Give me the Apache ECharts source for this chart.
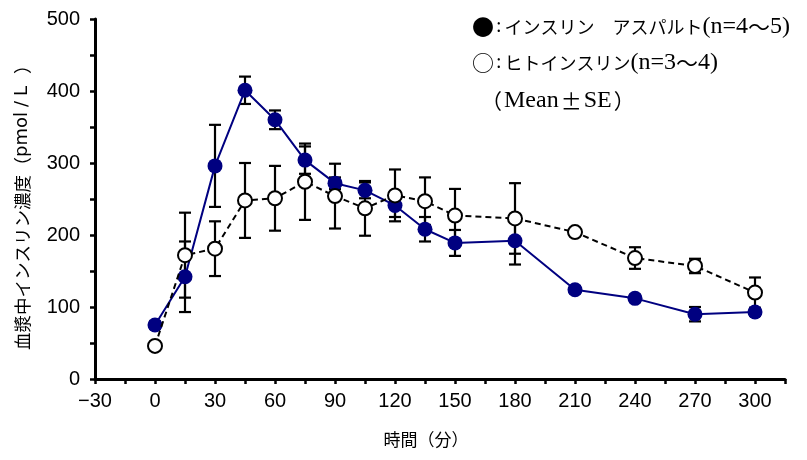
<!DOCTYPE html>
<html>
<head>
<meta charset="utf-8">
<script src="https://cdn.jsdelivr.net/npm/echarts@6/dist/echarts.min.js"></script>
<style>
  html, body { margin: 0; padding: 0; background: #fff; }
  #chart { width: 807px; height: 460px; }
</style>
</head>
<body>
<div id="chart"></div>
<script>
// Sampling times (min)
const times = [0, 15, 30, 45, 60, 75, 90, 105, 120, 135, 150, 180, 210, 240, 270, 300];
// Insulin aspart: mean and SE (pmol/L)
const aspartMean = [75, 142, 296, 401, 360, 304, 272, 262, 241, 208, 189, 192, 124, 112, 90, 93];
const aspartSE   = [5, 49, 57, 19, 13, 19, 8, 11, 16, 17, 18, 33, 5, 5, 10, 5];
// Human insulin: mean and SE (pmol/L)
const humanMean = [46, 172, 181, 248, 251, 274, 254, 237, 255, 247, 227, 223, 204, 168, 157, 120];
const humanSE   = [5, 59, 38, 52, 45, 53, 45, 38, 36, 33, 37, 49, 5, 15, 10, 21];

// Legend lines (rich-text markup: s = marker, c = colon, k = kana, l = latin, w = wave dash)
const legendLines = [
  '{s|●}{c|:}{k|インスリン　アスパルト}{l|(n=4}{w|～}{l|5)}',
  '{s|○}{c|:}{k|ヒトインスリン}{l|(n=3}{w|～}{l|4)}',
  '{p|（}{m|Mean}{p|±}{m|SE}{p|）}'
];
const xTitle = '時間（分）';
const yTitle = '{a|血漿中インスリン濃度}{p|（}{u|pmol}{v|/}{u|L}{q|）}';

const pairs = (means) => times.map((t, i) => [t, means[i]]);
const bars = (means, se) => times.map((t, i) => [t, means[i] - se[i], means[i] + se[i]]);

function errorBar(params, api) {
  const x = api.value(0);
  const top = api.coord([x, api.value(2)]);
  const bot = api.coord([x, api.value(1)]);
  const hw = 6;
  const st = { stroke: '#000', lineWidth: 2.2 };
  return {
    type: 'group',
    children: [
      { type: 'line', shape: { x1: top[0], y1: top[1], x2: bot[0], y2: bot[1] }, style: st },
      { type: 'line', shape: { x1: top[0] - hw, y1: top[1], x2: top[0] + hw, y2: top[1] }, style: st },
      { type: 'line', shape: { x1: bot[0] - hw, y1: bot[1], x2: bot[0] + hw, y2: bot[1] }, style: st }
    ]
  };
}

const legendRich = {
  s: { fontFamily: 'Noto Sans CJK JP', fontSize: 22, fill: '#000', verticalAlign: 'middle' },
  c: { fontFamily: 'Liberation Serif', fontSize: 20, fill: '#000', padding: [0, 3, 0, 2], verticalAlign: 'middle' },
  k: { fontFamily: 'Noto Sans CJK JP', fontSize: 18, fill: '#000', verticalAlign: 'middle' },
  l: { fontFamily: 'Liberation Serif', fontSize: 24, fill: '#000', verticalAlign: 'middle' },
  w: { fontFamily: 'Noto Sans CJK JP', fontSize: 22, fill: '#000', verticalAlign: 'middle' },
  p: { fontFamily: 'Noto Sans CJK JP', fontSize: 21, fill: '#000', verticalAlign: 'middle' },
  m: { fontFamily: 'Liberation Serif', fontSize: 24, fill: '#000', verticalAlign: 'middle', padding: [0, 2] }
};

const tickFont = { fontFamily: 'Liberation Sans', fontSize: 20, color: '#000' };
const axisLine = { show: true, onZero: false, lineStyle: { color: '#000', width: 3 } };
const axisTick = { show: true, inside: false, length: 5, lineStyle: { color: '#000', width: 2.5 } };

const chart = echarts.init(document.getElementById('chart'), null, { renderer: 'canvas' });
chart.setOption({
  animation: false,
  backgroundColor: '#fff',
  grid: { left: 95, right: 22, top: 19, bottom: 81, containLabel: false },
  xAxis: {
    type: 'value', min: -30, max: 315, interval: 15,
    axisLine, axisTick,
    splitLine: { show: false },
    axisLabel: Object.assign({}, tickFont, {
      margin: 12,
      formatter: v => (v % 30 === 0 ? String(v).replace('-', '−') : '')
    })
  },
  yAxis: {
    type: 'value', min: 0, max: 500, interval: 50,
    axisLine, axisTick,
    splitLine: { show: false },
    axisLabel: Object.assign({}, tickFont, {
      margin: 15,
      formatter: v => (v % 100 === 0 ? String(v) : '')
    })
  },
  graphic: [
    { type: 'text', x: 472, y: 27, style: { text: legendLines[0], rich: legendRich, verticalAlign: 'middle' } },
    { type: 'text', x: 472, y: 63, style: { text: legendLines[1], rich: legendRich, verticalAlign: 'middle' } },
    { type: 'text', x: 481, y: 101, style: { text: legendLines[2], rich: legendRich, verticalAlign: 'middle' } },
    {
      type: 'text', x: 426, y: 440,
      style: { text: xTitle, font: "17px 'Noto Sans CJK JP'", fill: '#000', textAlign: 'center', textVerticalAlign: 'middle' }
    },
    {
      type: 'text', x: 22, y: 203, rotation: Math.PI / 2,
      style: {
        text: yTitle, align: 'center', verticalAlign: 'middle',
        rich: {
          a: { fontFamily: 'Noto Sans CJK JP', fontSize: 17.5, fill: '#000' },
          p: { fontFamily: 'Noto Sans CJK JP', fontSize: 18, fill: '#000' },
          u: { fontFamily: 'DejaVu Sans', fontSize: 18, fill: '#000' },
          v: { fontFamily: 'DejaVu Sans', fontSize: 18, fill: '#000', padding: [0, 5] },
          q: { fontFamily: 'Noto Sans CJK JP', fontSize: 18, fill: '#000', padding: [0, 0, 0, 12] }
        }
      }
    }
  ],
  series: [
    {
      type: 'custom', name: 'aspart SE', renderItem: errorBar,
      data: bars(aspartMean, aspartSE), encode: { x: 0, y: [1, 2] }, z: 1
    },
    {
      type: 'custom', name: 'human SE', renderItem: errorBar,
      data: bars(humanMean, humanSE), encode: { x: 0, y: [1, 2] }, z: 1
    },
    {
      type: 'line', name: 'インスリン アスパルト', data: pairs(aspartMean), z: 3,
      symbol: 'circle', symbolSize: 15,
      lineStyle: { color: '#000080', width: 2 },
      itemStyle: { color: '#000080', borderColor: '#000080', borderWidth: 0 }
    },
    {
      type: 'line', name: 'ヒトインスリン', data: pairs(humanMean), z: 4,
      symbol: 'circle', symbolSize: 14,
      lineStyle: { color: '#000', width: 2, type: [6, 4] },
      itemStyle: { color: '#fff', borderColor: '#000', borderWidth: 2 }
    }
  ]
});
</script>
</body>
</html>
